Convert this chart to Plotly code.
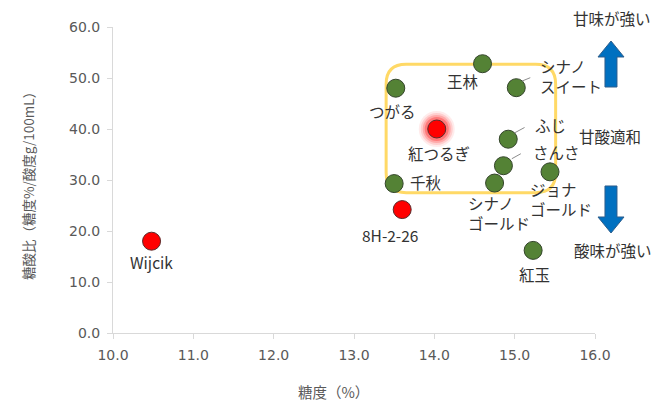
import plotly.graph_objects as go

# ---- data -------------------------------------------------------------
varieties = ["Wijcik", "8H-2-26", "千秋", "つがる", "王林", "シナノスイート",
             "紅つるぎ", "ふじ", "さんさ", "シナノゴールド", "ジョナゴールド", "紅玉"]
sugar = [10.48, 13.60, 13.50, 13.52, 14.60, 15.02, 14.03, 14.92, 14.86, 14.75, 15.44, 15.23]
ratio = [18.0, 24.2, 29.3, 48.0, 52.8, 48.1, 40.0, 38.0, 32.8, 29.4, 31.6, 16.2]
is_red = [True, True, False, False, False, False, True, False, False, False, False, False]
highlight = "紅つるぎ"

point_labels = {
    "シナノスイート": "シナノ<br>スイート",
    "シナノゴールド": "シナノ<br>ゴールド",
    "ジョナゴールド": "ジョナ<br>ゴールド",
}

x_ticks = [10, 11, 12, 13, 14, 15, 16]
y_ticks = [0, 10, 20, 30, 40, 50, 60]

# "balanced" region outline (data units)
zone_x = (13.40, 15.51)
zone_y = (27.5, 52.7)

# ---- layout geometry --------------------------------------------------
W, H = 669, 405
ML, MR, MT, MB = 113, 74, 27, 72
PW, PH = W - ML - MR, H - MT - MB


def px(x):
    return (x - ML) / PW


def py(y):
    return (H - MB - y) / PH


JP = "Noto Sans CJK JP"
LABEL_COLOR = "#333333"
AXIS_TEXT = "#595959"
GREEN = "#548235"
RED = "#FF0000"
LABEL_SIZE = 15.5

fig = go.Figure()

# soft glow around the highlighted variety
hx = [x for x, n in zip(sugar, varieties) if n == highlight]
hy = [y for y, n in zip(ratio, varieties) if n == highlight]
for s, op in [(36, 0.08), (32, 0.12), (28, 0.18), (24, 0.28)]:
    fig.add_trace(go.Scatter(x=hx, y=hy, mode="markers", hoverinfo="skip",
                             marker=dict(size=s, color=RED, opacity=op, line=dict(width=0)),
                             showlegend=False))

gx = [x for x, r in zip(sugar, is_red) if not r]
gy = [y for y, r in zip(ratio, is_red) if not r]
gn = [n for n, r in zip(varieties, is_red) if not r]
rx = [x for x, r in zip(sugar, is_red) if r]
ry = [y for y, r in zip(ratio, is_red) if r]
rn = [n for n, r in zip(varieties, is_red) if r]

fig.add_trace(go.Scatter(x=gx, y=gy, text=gn, mode="markers", showlegend=False,
                         marker=dict(size=18, color=GREEN, line=dict(color="#34452B", width=1))))
fig.add_trace(go.Scatter(x=rx, y=ry, text=rn, mode="markers", showlegend=False,
                         marker=dict(size=18, color=RED, line=dict(color="#5A2A2A", width=1))))

# label placement: (xanchor, xshift, yshift) in pixels
label_pos = {
    "Wijcik": ("center", 0, -21),
    "8H-2-26": ("center", -12, -25),
    "千秋": ("left", 14, 2),
    "つがる": ("center", -3, -23),
    "王林": ("center", -20, -17),
    "シナノスイート": ("left", 22, 12),
    "紅つるぎ": ("center", 2, -24),
    "ふじ": ("left", 25, 14),
    "さんさ": ("left", 28, 14),
    "シナノゴールド": ("left", -29, -30),
    "ジョナゴールド": ("left", -22, -27),
    "紅玉": ("center", 1, -24),
}

for n, x, y in zip(varieties, sugar, ratio):
    xa, dx, dy = label_pos[n]
    fig.add_annotation(x=x, y=y, xref="x", yref="y", text=point_labels.get(n, n),
                       showarrow=False, xanchor=xa, yanchor="middle",
                       xshift=dx, yshift=dy, align="left",
                       font=dict(family=JP, size=LABEL_SIZE, color=LABEL_COLOR))

# leader lines from markers to their labels (pixel offsets)
leaders = {
    "シナノスイート": (5.7, 6.6, 14, 10),
    "ふじ": (6.3, 6.3, 16.3, 11.7),
    "さんさ": (8.4, 7, 17.4, 12),
}
for n, (x0, y0, x1, y1) in leaders.items():
    i = varieties.index(n)
    fig.add_shape(type="line", xref="x", yref="y", xsizemode="pixel", ysizemode="pixel",
                  xanchor=sugar[i], yanchor=ratio[i], x0=x0, y0=y0, x1=x1, y1=y1,
                  line=dict(color="#8C8C8C", width=1))

# rounded rectangle marking the balanced region
rxr, ryr = 0.25, 3.9
x0, x1 = zone_x
y0, y1 = zone_y
path = (f"M {x0 + rxr},{y1} L {x1 - rxr},{y1} Q {x1},{y1} {x1},{y1 - ryr} "
        f"L {x1},{y0 + ryr} Q {x1},{y0} {x1 - rxr},{y0} "
        f"L {x0 + rxr},{y0} Q {x0},{y0} {x0},{y0 + ryr} "
        f"L {x0},{y1 - ryr} Q {x0},{y1} {x0 + rxr},{y1} Z")
fig.add_shape(type="path", path=path, xref="x", yref="y", layer="below",
              line=dict(color="#FFD966", width=3), fillcolor="rgba(0,0,0,0)")


# block arrows to the right of the plot
def arrow_path(cx, tip, base, head_len, head_w, shaft_w):
    d = 1 if base > tip else -1  # pixel y grows downward
    hb = tip + d * head_len
    pts = [(cx, tip), (cx + head_w / 2, hb), (cx + shaft_w / 2, hb),
           (cx + shaft_w / 2, base), (cx - shaft_w / 2, base),
           (cx - shaft_w / 2, hb), (cx - head_w / 2, hb)]
    return "M " + " L ".join(f"{px(a):.4f},{py(b):.4f}" for a, b in pts) + " Z"


for tip, base in [(41, 87), (233, 186)]:
    fig.add_shape(type="path", xref="paper", yref="paper",
                  path=arrow_path(611, tip, base, 16, 26, 12),
                  fillcolor="#0070C0", line=dict(color="#2E5E8C", width=1))

for txt, x, y in [("甘味が強い", 612, 18), ("甘酸適和", 610, 136), ("酸味が強い", 613, 250)]:
    fig.add_annotation(x=px(x), y=py(y), xref="paper", yref="paper", text=txt,
                       showarrow=False, xanchor="center", yanchor="middle",
                       font=dict(family=JP, size=LABEL_SIZE, color=LABEL_COLOR))

# axis titles
fig.add_annotation(x=px(333), y=py(391), xref="paper", yref="paper", text="糖度（%）",
                   showarrow=False, xanchor="center", yanchor="middle",
                   font=dict(family=JP, size=14.5, color=AXIS_TEXT))
fig.add_annotation(x=px(28), y=py(183), xref="paper", yref="paper",
                   text="糖酸比（糖度%/酸度g/100mL）", textangle=-90,
                   showarrow=False, xanchor="center", yanchor="middle",
                   font=dict(family=JP, size=13.5, color=AXIS_TEXT))

axis_common = dict(showgrid=False, zeroline=False, showline=True, linecolor="#D9D9D9",
                   linewidth=1, ticks="outside", ticklen=5, tickcolor="#D9D9D9",
                   tickformat=".1f",
                   tickfont=dict(family="DejaVu Sans", size=14, color=AXIS_TEXT))

fig.update_layout(
    width=W, height=H, autosize=False,
    margin=dict(l=ML, r=MR, t=MT, b=MB),
    plot_bgcolor="white", paper_bgcolor="white",
    xaxis=dict(range=[10, 16], tickvals=x_ticks, ticklabelstandoff=4, **axis_common),
    yaxis=dict(range=[0, 60], tickvals=y_ticks, ticklabelstandoff=4, **axis_common),
)

fig.write_html("out.html")
